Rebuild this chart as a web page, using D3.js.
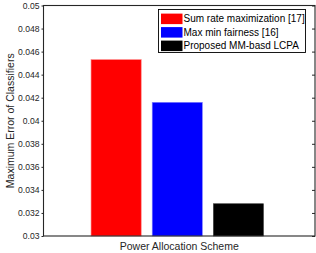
<!DOCTYPE html>
<html>
<head>
<meta charset="utf-8">
<script src="https://cdn.jsdelivr.net/npm/d3@7"></script>
<style>
  body { margin: 0; background: #fff; }
  text { font-family: 'Liberation Sans', Arial, sans-serif; }
</style>
</head>
<body>
<div id="chart"></div>
<script>
// data
const series = ['Sum rate maximization [17]', 'Max min fairness [16]', 'Proposed MM-basd LCPA'];
const values = [0.0453, 0.0416, 0.0328];
const colors = ['#ff0000', '#0000ff', '#000000'];
const edges = ['#ff8080', '#8080ff', '#404040'];
const yTicks = [0.03, 0.032, 0.034, 0.036, 0.038, 0.04, 0.042, 0.044, 0.046, 0.048, 0.05];

const W = 316, H = 253;
const margin = {top: 5.5, right: 1, bottom: 17, left: 43.5};
const graphWidth = W - margin.left - margin.right;
const graphHeight = H - margin.top - margin.bottom;

const svg = d3.select('#chart')
    .append('svg')
    .attr('width', W)
    .attr('height', H)
    .style('display', 'block');

const graph = svg.append('g')
    .attr('transform', `translate(${margin.left}, ${margin.top})`);

const x = d3.scaleBand()
    .domain(series)
    .range([0, graphWidth])
    .paddingInner(0.18)
    .paddingOuter(0.81)
    .align(0.48);
const y = d3.scaleLinear()
    .domain([0.03, 0.05])
    .range([graphHeight, 0]);

// bars
graph.selectAll('rect.bar')
    .data(values)
    .enter()
    .append('rect')
    .attr('class', 'bar')
    .attr('x', (d, i) => x(series[i]))
    .attr('y', d => y(d))
    .attr('width', x.bandwidth())
    .attr('height', d => y(0.03) - y(d))
    .attr('fill', (d, i) => colors[i])
    .attr('stroke', (d, i) => edges[i])
    .attr('stroke-width', 0.6);

// axes: left with labels, right ticks only, box lines
const axisColor = '#262626';
const yAxis = d3.axisLeft(y)
    .tickValues(yTicks)
    .tickFormat(d => d3.format('')(+d.toFixed(3)))
    .tickSize(2)
    .tickPadding(2);
const yAxisGroup = graph.append('g').call(yAxis);
yAxisGroup.select('.domain').remove();
yAxisGroup.selectAll('line').attr('stroke', axisColor);
yAxisGroup.selectAll('text')
    .attr('fill', axisColor)
    .style('font-family', "'Liberation Sans', Arial, sans-serif")
    .style('font-size', '8.6px');

const yRight = d3.axisLeft(y)
    .tickValues(yTicks)
    .tickFormat('')
    .tickSize(3);
const yRightGroup = graph.append('g')
    .attr('transform', `translate(${graphWidth}, 0)`)
    .call(yRight);
yRightGroup.select('.domain').remove();
yRightGroup.selectAll('line').attr('stroke', axisColor);

graph.append('rect')
    .attr('x', 0)
    .attr('y', 0)
    .attr('width', graphWidth)
    .attr('height', graphHeight)
    .attr('fill', 'none')
    .attr('stroke', axisColor)
    .attr('stroke-width', 1.1);

// axis labels
svg.append('text')
    .attr('x', margin.left + graphWidth / 2)
    .attr('y', 250)
    .attr('text-anchor', 'middle')
    .attr('fill', axisColor)
    .style('font-size', '10.5px')
    .text('Power Allocation Scheme');

svg.append('text')
    .attr('transform', `translate(13.5, ${margin.top + graphHeight / 2}) rotate(-90)`)
    .attr('text-anchor', 'middle')
    .attr('fill', axisColor)
    .style('font-size', '10.5px')
    .text('Maximum Error of Classifiers');

// legend
const legend = svg.append('g').attr('transform', 'translate(158.5, 9.5)');
legend.append('rect')
    .attr('width', 147)
    .attr('height', 43)
    .attr('fill', '#fff')
    .attr('stroke', '#000')
    .attr('stroke-width', 0.9);
const items = legend.selectAll('g.item')
    .data(series)
    .enter()
    .append('g')
    .attr('class', 'item')
    .attr('transform', (d, i) => `translate(0, ${9.3 + i * 13.5})`);
items.append('rect')
    .attr('x', 2.5)
    .attr('y', -5.2)
    .attr('width', 21.5)
    .attr('height', 10.5)
    .attr('fill', (d, i) => colors[i]);
items.append('text')
    .attr('x', 25)
    .attr('y', 3.6)
    .attr('fill', '#000')
    .style('font-size', '10px')
    .text(d => d);
</script>
</body>
</html>
